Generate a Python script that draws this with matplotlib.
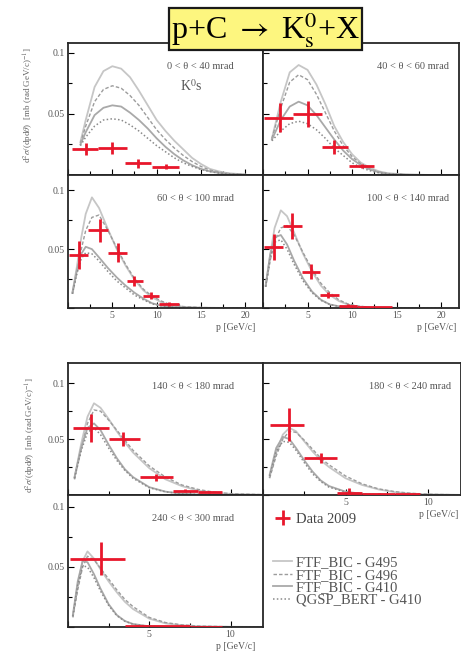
import matplotlib
matplotlib.use("Agg")
import matplotlib.pyplot as plt
from matplotlib.ticker import MultipleLocator, FuncFormatter

plt.rcParams["font.family"] = ["Liberation Serif", "DejaVu Serif"]
plt.rcParams["mathtext.fontset"] = "stix"

MODELS = ["FTF_BIC - G495", "FTF_BIC - G496", "FTF_BIC - G410", "QGSP_BERT - G410"]

# ---- 0 < theta < 40 mrad --------------------------------------------------
p_0_40 = [1.4, 2, 3, 4, 5, 6, 7, 8, 9, 10, 11, 12, 13, 14, 15, 16, 17, 18, 20]
g495_0_40 = [.027, .045, .072, .085, .089, .087, .080, .069, .057, .045, .036, .028, .021, .014, .009, .005, .003, .0015, .0004]
g496_0_40 = [.026, .040, .060, .070, .073, .071, .065, .057, .047, .037, .029, .022, .016, .011, .007, .004, .0025, .0013, .0003]
g410_0_40 = [.025, .035, .049, .055, .057, .056, .051, .045, .038, .030, .023, .017, .012, .008, .005, .003, .0018, .001, .0002]
bert_0_40 = [.024, .031, .040, .045, .046, .045, .041, .036, .030, .024, .019, .014, .010, .007, .0045, .0028, .0016, .0009, .0002]
dp_0_40 = [2.0, 5.0, 7.9, 11.0]
dy_0_40 = [.021, .022, .0096, .0068]
dlo_0_40 = [0.5, 3.4, 6.4, 9.5]
dhi_0_40 = [3.4, 6.6, 9.4, 12.5]
derr_0_40 = [.005, .005, .0035, .002]

# ---- 40 < theta < 60 mrad -------------------------------------------------
p_40_60 = [1, 2, 3, 4, 5, 6, 7, 8, 9, 10, 11, 12, 13, 14, 16, 18, 20]
g495_40_60 = [.030, .060, .084, .090, .086, .074, .058, .040, .027, .017, .010, .006, .003, .0015, .0004, .0001, 0]
g496_40_60 = [.030, .055, .076, .082, .078, .066, .051, .036, .024, .015, .009, .005, .0025, .0012, .0003, .0001, 0]
g410_40_60 = [.029, .045, .056, .060, .057, .049, .039, .029, .020, .013, .008, .0045, .0022, .001, .0003, .0001, 0]
bert_40_60 = [.028, .036, .042, .044, .042, .037, .030, .022, .016, .010, .006, .0035, .0018, .0009, .0002, .0001, 0]
dp_40_60 = [1.9, 5.0, 8.0, 11.1]
dy_40_60 = [.047, .050, .023, .0074]
dlo_40_60 = [0.1, 3.4, 6.6, 9.7]
dhi_40_60 = [3.4, 6.6, 9.5, 12.5]
derr_40_60 = [.012, .0105, .0055, .002]

# ---- 60 < theta < 100 mrad ------------------------------------------------
p_60_100 = [0.5, 1, 1.5, 2, 2.7, 3.5, 4.5, 5.5, 6.5, 7.5, 8.5, 9.5, 10.5, 11.5, 13, 15, 17, 20]
g495_60_100 = [.013, .035, .060, .080, .094, .085, .067, .050, .036, .024, .015, .009, .005, .0025, .001, .0003, .0001, 0]
g496_60_100 = [.012, .030, .050, .066, .077, .079, .066, .051, .037, .025, .016, .010, .006, .003, .0012, .0004, .0001, 0]
g410_60_100 = [.013, .032, .046, .052, .050, .043, .034, .026, .019, .013, .008, .004, .002, .001, .0003, .0001, 0, 0]
bert_60_100 = [.012, .029, .042, .047, .046, .040, .031, .023, .017, .011, .007, .0035, .0018, .0008, .0002, .0001, 0, 0]
dp_60_100 = [1.2, 3.6, 5.6, 7.5, 9.4, 11.4]
dy_60_100 = [.045, .066, .047, .023, .0104, .0032]
dlo_60_100 = [0.1, 2.3, 4.5, 6.6, 8.5, 10.3]
dhi_60_100 = [2.3, 4.5, 6.6, 8.5, 10.3, 12.5]
derr_60_100 = [.012, .010, .008, .0045, .003, .0015]

# ---- 100 < theta < 140 mrad -----------------------------------------------
p_100_140 = [0.3, 0.8, 1.3, 2, 2.7, 3.5, 4.5, 5.5, 6.5, 7.5, 8.5, 9.5, 10.5, 12, 14, 17, 20]
g495_100_140 = [.019, .045, .068, .083, .078, .064, .046, .031, .019, .011, .006, .003, .0015, .0005, .0002, 0, 0]
g496_100_140 = [.018, .040, .057, .068, .070, .062, .047, .033, .021, .013, .007, .0035, .0018, .0006, .0002, 0, 0]
g410_100_140 = [.019, .045, .060, .062, .054, .040, .025, .014, .007, .003, .0015, .0006, .0002, .0001, 0, 0, 0]
bert_100_140 = [.018, .042, .056, .058, .050, .037, .023, .013, .0065, .003, .0013, .0005, .0002, .0001, 0, 0, 0]
dp_100_140 = [1.2, 3.3, 5.4, 7.3, 9.5, 11.5, 13.5]
dy_100_140 = [.052, .070, .031, .011, .002, .001, .0005]
dlo_100_140 = [0.1, 2.3, 4.4, 6.4, 8.5, 10.5, 12.5]
dhi_100_140 = [2.3, 4.4, 6.4, 8.5, 10.5, 12.5, 14.5]
derr_100_140 = [.011, .011, .006, .0025, .001, .0008, .0005]

# ---- 140 < theta < 180 mrad -----------------------------------------------
p_140_180 = [0.4, 0.8, 1.2, 1.6, 2.0, 2.5, 3, 3.5, 4, 5, 6, 7, 8, 9, 10, 12]
g495_140_180 = [.015, .045, .070, .082, .078, .068, .057, .047, .038, .024, .014, .008, .004, .002, .001, .0002]
g496_140_180 = [.014, .040, .064, .076, .075, .067, .058, .049, .040, .026, .016, .009, .005, .0025, .0012, .0003]
g410_140_180 = [.016, .042, .060, .064, .058, .045, .033, .023, .016, .007, .003, .0012, .0005, .0002, .0001, 0]
bert_140_180 = [.015, .039, .056, .060, .054, .042, .031, .022, .015, .0065, .0028, .0011, .0005, .0002, .0001, 0]
dp_140_180 = [1.4, 3.4, 5.4, 7.2, 8.7]
dy_140_180 = [.0595, .050, .0158, .004, .003]
dlo_140_180 = [0.3, 2.5, 4.4, 6.45, 8.0]
dhi_140_180 = [2.5, 4.4, 6.45, 8.0, 9.5]
derr_140_180 = [.0125, .006, .003, .001, .001]

# ---- 180 < theta < 240 mrad -----------------------------------------------
p_180_240 = [0.4, 0.8, 1.2, 1.6, 2.0, 2.5, 3, 3.5, 4, 5, 6, 7, 8, 9, 10, 12]
g495_180_240 = [.016, .038, .054, .060, .057, .048, .039, .031, .025, .015, .009, .005, .0025, .0012, .0006, .0001]
g496_180_240 = [.015, .035, .050, .057, .056, .049, .041, .033, .027, .017, .010, .0055, .003, .0015, .0007, .0001]
g410_180_240 = [.018, .042, .052, .050, .042, .031, .021, .013, .008, .003, .001, .0004, .0001, 0, 0, 0]
bert_180_240 = [.017, .039, .048, .047, .040, .029, .019, .012, .007, .0027, .001, .0003, .0001, 0, 0, 0]
dp_180_240 = [1.6, 3.5, 5.2, 7.0, 8.75]
dy_180_240 = [.063, .033, .002, .001, .0005]
dlo_180_240 = [0.4, 2.5, 4.5, 6.0, 8.0]
dhi_180_240 = [2.5, 4.5, 6.0, 8.0, 9.5]
derr_180_240 = [.015, .0045, .004, .001, .0005]

# ---- 240 < theta < 300 mrad -----------------------------------------------
p_240_300 = [0.3, 0.6, 0.9, 1.2, 1.6, 2.0, 2.5, 3, 3.5, 4, 5, 6, 7, 8, 10, 12]
g495_240_300 = [.009, .035, .055, .063, .057, .048, .038, .029, .021, .015, .007, .003, .0015, .0007, .0002, 0]
g496_240_300 = [.008, .031, .050, .059, .056, .049, .040, .031, .023, .017, .008, .0037, .0018, .0008, .0002, 0]
g410_240_300 = [.010, .038, .055, .054, .044, .032, .019, .010, .005, .0025, .0006, .0002, 0, 0, 0, 0]
bert_240_300 = [.009, .035, .051, .050, .041, .030, .018, .0095, .0048, .0023, .0005, .0002, 0, 0, 0, 0]
dp_240_300 = [2.0, 4.25, 6.25, 8.5]
dy_240_300 = [.057, .001, .0005, .0003]
dlo_240_300 = [0.1, 3.5, 5.0, 7.5]
dhi_240_300 = [3.5, 5.0, 7.5, 9.5]
derr_240_300 = [.014, .0008, .0005, .0003]

W, H = 461, 670
RED = "#e8172b"
STYLES = [
    dict(color="#c6c6c6", lw=1.3, ls="-"),
    dict(color="#9c9c9c", lw=1.0, ls=(0, (2.5, 1.5))),
    dict(color="#a9a9a9", lw=1.3, ls="-"),
    dict(color="#8a8a8a", lw=1.1, ls=(0, (1, 1.5))),
]
TICK_FMT = FuncFormatter(lambda v, _: "" if abs(v) < 1e-9 else f"{v:g}")

fig = plt.figure(figsize=(W / 100, H / 100), dpi=100)


def add_panel(x0, y0, x1, y1):
    # pixel box (top-left origin) -> figure fraction
    return fig.add_axes([x0 / W, 1 - y1 / H, (x1 - x0) / W, (y1 - y0) / H])


def draw(ax, p, curves, dp, dy, dlo, dhi, derr, label, xmax, ymax,
         xlabels=False, ylabels=False, plabel=None):
    lines = []
    for vals, st in zip(curves, STYLES):
        ln, = ax.plot(p, vals, color=st["color"], lw=st["lw"], ls=st["ls"], zorder=2)
        lines.append(ln)
    xerr = [[a - b for a, b in zip(dp, dlo)], [b - a for a, b in zip(dp, dhi)]]
    eb = ax.errorbar(dp, dy, xerr=xerr, yerr=derr, fmt="none", ecolor=RED,
                     elinewidth=2.0, capsize=0, zorder=5)
    ax.set_xlim(0, xmax)
    ax.set_ylim(0, ymax)
    ax.xaxis.set_major_locator(MultipleLocator(5))
    ax.xaxis.set_minor_locator(MultipleLocator(2.5))
    ax.yaxis.set_major_locator(MultipleLocator(0.05))
    ax.yaxis.set_minor_locator(MultipleLocator(0.025))
    ax.xaxis.set_major_formatter(TICK_FMT)
    ax.yaxis.set_major_formatter(TICK_FMT)
    ax.tick_params(which="both", direction="in", top=False, right=False,
                   labelsize=7, labelcolor="#555555", width=0.8, pad=2)
    ax.tick_params(which="major", length=4)
    ax.tick_params(which="minor", length=3)
    if not xlabels:
        ax.tick_params(axis="x", labelbottom=False)
    if not ylabels:
        ax.tick_params(axis="y", labelleft=False)
    for s in ax.spines.values():
        s.set_linewidth(1.3)
        s.set_color("#262626")
    ax.text(0.85 if ylabels else 0.95, 0.82, label, transform=ax.transAxes,
            ha="right", va="center", fontsize=7.5, color="#555555")
    if plabel is not None:
        ax.text(plabel, -0.145, "p [GeV/c]", transform=ax.transAxes,
                ha="right", va="center", fontsize=7, color="#555555")
    return lines, eb


ax1 = add_panel(68, 43, 263, 175)
ax2 = add_panel(263, 43, 459, 175)
ax3 = add_panel(68, 175, 263, 308)
ax4 = add_panel(263, 175, 459, 308)
ax5 = add_panel(68, 363, 263, 495)
ax6 = add_panel(263, 363, 461, 495)
ax7 = add_panel(68, 495, 263, 627)

draw(ax1, p_0_40, [g495_0_40, g496_0_40, g410_0_40, bert_0_40],
     dp_0_40, dy_0_40, dlo_0_40, dhi_0_40, derr_0_40,
     "0 < θ < 40 mrad", 22, 0.108, ylabels=True)
ax1.text(0.63, 0.67, r"K$^{0}$s", transform=ax1.transAxes, ha="center",
         va="center", fontsize=10, color="#555555")
draw(ax2, p_40_60, [g495_40_60, g496_40_60, g410_40_60, bert_40_60],
     dp_40_60, dy_40_60, dlo_40_60, dhi_40_60, derr_40_60,
     "40 < θ < 60 mrad", 22, 0.108)
draw(ax3, p_60_100, [g495_60_100, g496_60_100, g410_60_100, bert_60_100],
     dp_60_100, dy_60_100, dlo_60_100, dhi_60_100, derr_60_100,
     "60 < θ < 100 mrad", 22, 0.113, xlabels=True, ylabels=True, plabel=0.96)
draw(ax4, p_100_140, [g495_100_140, g496_100_140, g410_100_140, bert_100_140],
     dp_100_140, dy_100_140, dlo_100_140, dhi_100_140, derr_100_140,
     "100 < θ < 140 mrad", 22, 0.113, xlabels=True, plabel=0.985)
draw(ax5, p_140_180, [g495_140_180, g496_140_180, g410_140_180, bert_140_180],
     dp_140_180, dy_140_180, dlo_140_180, dhi_140_180, derr_140_180,
     "140 < θ < 180 mrad", 12, 0.118, ylabels=True)
draw(ax6, p_180_240, [g495_180_240, g496_180_240, g410_180_240, bert_180_240],
     dp_180_240, dy_180_240, dlo_180_240, dhi_180_240, derr_180_240,
     "180 < θ < 240 mrad", 12, 0.118, xlabels=True, plabel=0.985)
lines, eb = draw(ax7, p_240_300, [g495_240_300, g496_240_300, g410_240_300, bert_240_300],
                 dp_240_300, dy_240_300, dlo_240_300, dhi_240_300, derr_240_300,
                 "240 < θ < 300 mrad", 12, 0.11, xlabels=True, ylabels=True, plabel=0.96)

# y-axis titles, one per block
ylab = r"d$^2\sigma$/(dpd$\theta$)  [mb (rad GeV/c)$^{-1}$]"
fig.text(29 / W, 1 - 105 / H, ylab, rotation=90, ha="center", va="center",
         fontsize=6.5, color="#666666")
fig.text(31 / W, 1 - 435 / H, ylab, rotation=90, ha="center", va="center",
         fontsize=6.5, color="#666666")

# legend in the empty lower-right slot
fig.legend([eb], ["Data 2009"], loc="center left",
           bbox_to_anchor=(266 / W, 1 - 519 / H), frameon=False, fontsize=10.5,
           handlelength=1.3, handletextpad=0.25, borderpad=0, labelcolor="#444444")
fig.legend(lines, MODELS, loc="upper left", bbox_to_anchor=(266 / W, 1 - 549 / H),
           frameon=False, fontsize=10.5, handlelength=1.3, handletextpad=0.25,
           labelspacing=-0.05, borderpad=0, labelcolor="#555555")

# reaction title in a yellow box
fig.text(265.5 / W, 1 - 29 / H, r"p+C $\rightarrow$ K$^{0}_{\rm s}$+X",
         ha="center", va="center", fontsize=23, color="black",
         bbox=dict(boxstyle="square,pad=0.06", fc="#fdf67f", ec="#1a1a1a", lw=1.6))

fig.savefig("out.png", dpi=100)
